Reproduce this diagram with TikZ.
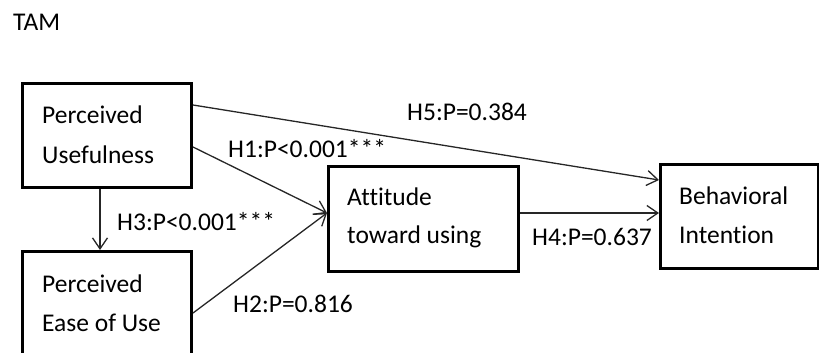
\documentclass[tikz,border=0pt]{standalone}
\usepackage{fontspec}
\setmainfont{Carlito}[Ligatures=NoCommon]
\usetikzlibrary{arrows.meta}
\begin{document}
\begin{tikzpicture}[x=1pt,y=-1pt,
  box/.style={draw=black, line width=3pt, anchor=north west, inner sep=0pt},
  arr/.style={draw=black!85, line width=1.3pt, -{Straight Barb[length=11pt,width=15pt,line width=1.3pt]}},
  txt/.style={anchor=base west, inner sep=0pt, font=\fontsize{25.5}{30}\selectfont, text=black}]
\useasboundingbox (0,0) rectangle (819,353);
\clip (0,0) rectangle (819,353);
\node[box, minimum width=169pt, minimum height=104pt] (pu) at (21,82) {};
\node[box, minimum width=169pt, minimum height=110pt] (pe) at (21,250) {};
\node[box, minimum width=190pt, minimum height=105pt] (at) at (327,165) {};
\node[box, minimum width=158pt, minimum height=104pt] (bi) at (659,163) {};
\node[txt] (tam) at (13,31) {TAM};
\node[txt] (pu1) at (42,123) {Perceived};
\node[txt] (pu2) at (42,163) {Usefulness};
\node[txt] (pe1) at (42,292) {Perceived};
\node[txt] (pe2) at (42,331) {Ease of Use};
\node[txt] (at1) at (347,205) {Attitude};
\node[txt] (at2) at (347,243) {toward using};
\node[txt] (bi1) at (679,204) {Behavioral};
\node[txt] (bi2) at (679,243) {Intention};
\node[txt] (h5) at (407,120) {H5:P=0.384};
\node[txt] (h1) at (228,157) {H1:P<0.001***};
\node[txt] (h3) at (117,230) {H3:P<0.001***};
\node[txt] (h2) at (233,312) {H2:P=0.816};
\node[txt] (h4) at (532,245) {H4:P=0.637};
\draw[arr] ([yshift=-23pt]pu.north east) -- ([yshift=-17pt]bi.north west);
\draw[arr] ([yshift=-65pt]pu.north east) -- ([yshift=-48pt]at.north west);
\draw[arr] ([xshift=79pt]pu.south west) -- ([xshift=79pt]pe.north west);
\draw[arr] ([yshift=-63pt]pe.north east) -- ([yshift=-48pt]at.north west);
\draw[arr] ([yshift=-48pt]at.north east) -- ([yshift=-50pt]bi.north west);
\end{tikzpicture}
\end{document}
